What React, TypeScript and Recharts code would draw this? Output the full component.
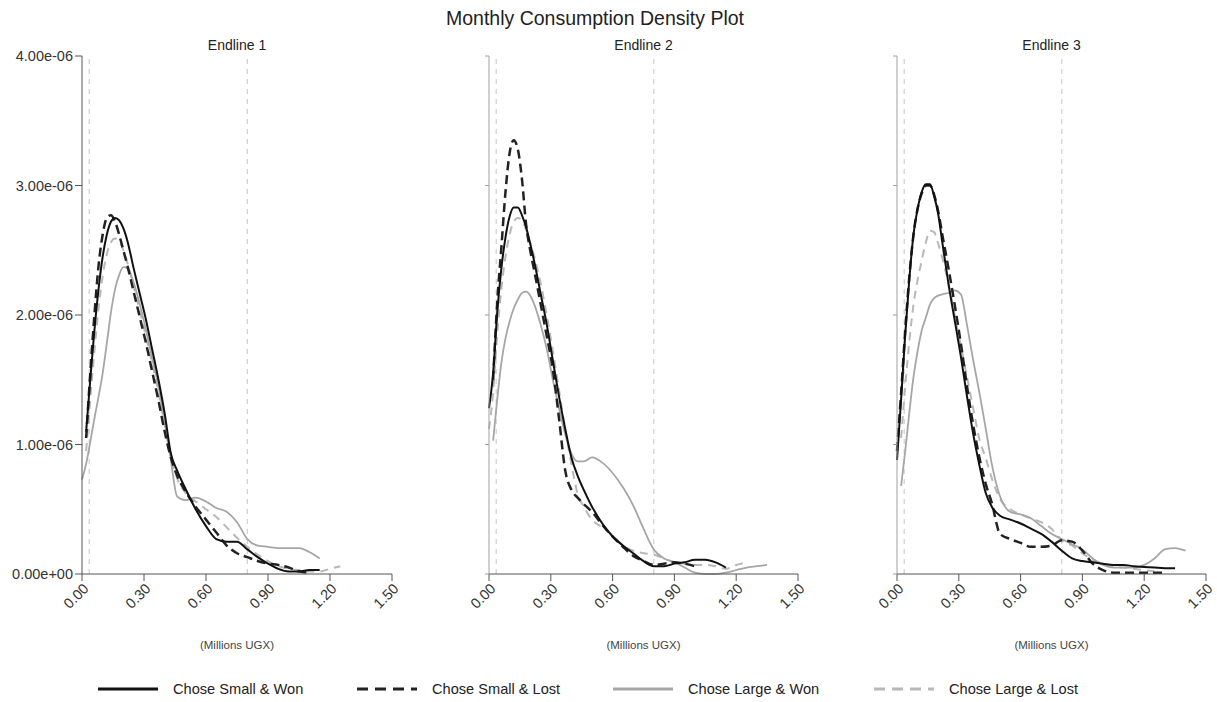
import React from "react";
import { LineChart, Line, XAxis, YAxis, ReferenceLine } from "recharts";

// x grid (millions UGX)
const X_GRID = [0, 0.02, 0.04, 0.06, 0.08, 0.1, 0.12, 0.14, 0.16, 0.18, 0.2, 0.22, 0.25, 0.28, 0.31, 0.34, 0.37, 0.4, 0.43, 0.46, 0.5, 0.55, 0.6, 0.65, 0.7, 0.75, 0.8, 0.85, 0.9, 0.95, 1.0, 1.05, 1.1, 1.15, 1.2, 1.25, 1.3, 1.35, 1.4];

// densities in units of 1e-6
const E1_SMALL_WON = [null, 1.10, 1.50, 1.88, 2.20, 2.45, 2.62, 2.72, 2.75, 2.73, 2.67, 2.57, 2.36, 2.16, 1.96, 1.73, 1.50, 1.24, 0.93, 0.80, 0.66, 0.50, 0.37, 0.27, 0.25, 0.25, 0.19, 0.13, 0.08, 0.04, 0.02, 0.02, 0.03, 0.03, null, null, null, null, null];
const E1_SMALL_LOST = [null, 1.05, 1.55, 2.00, 2.38, 2.62, 2.75, 2.77, 2.72, 2.62, 2.50, 2.38, 2.18, 1.98, 1.78, 1.56, 1.34, 1.10, 0.90, 0.76, 0.64, 0.52, 0.42, 0.32, 0.22, 0.16, 0.13, 0.10, 0.08, 0.07, 0.05, 0.02, 0.01, null, null, null, null, null, null];
const E1_LARGE_WON = [0.73, 0.85, 1.02, 1.20, 1.37, 1.55, 1.78, 2.02, 2.20, 2.31, 2.37, 2.36, 2.25, 2.08, 1.88, 1.66, 1.45, 1.18, 0.88, 0.60, 0.57, 0.59, 0.56, 0.51, 0.48, 0.40, 0.27, 0.22, 0.21, 0.20, 0.20, 0.20, 0.17, 0.12, null, null, null, null, null];
const E1_LARGE_LOST = [null, 0.95, 1.35, 1.72, 2.05, 2.30, 2.47, 2.56, 2.59, 2.57, 2.50, 2.40, 2.22, 2.03, 1.83, 1.62, 1.40, 1.15, 0.90, 0.74, 0.63, 0.56, 0.50, 0.44, 0.36, 0.28, 0.21, 0.15, 0.10, 0.06, 0.04, 0.03, 0.02, 0.02, 0.04, 0.06, null, null, null];

const E2_SMALL_WON = [1.28, 1.55, 2.02, 2.36, 2.60, 2.76, 2.83, 2.83, 2.77, 2.68, 2.55, 2.41, 2.17, 1.93, 1.65, 1.37, 1.12, 0.90, 0.76, 0.65, 0.52, 0.39, 0.29, 0.22, 0.16, 0.10, 0.06, 0.06, 0.08, 0.09, 0.11, 0.11, 0.09, 0.05, null, null, null, null, null];
const E2_SMALL_LOST = [null, 1.50, 2.10, 2.52, 2.95, 3.25, 3.35, 3.28, 3.05, 2.70, 2.50, 2.34, 2.09, 1.84, 1.58, 1.20, 0.80, 0.65, 0.59, 0.54, 0.48, 0.38, 0.29, 0.21, 0.14, 0.10, 0.07, 0.08, 0.09, 0.08, 0.06, null, null, null, null, null, null, null, null];
const E2_LARGE_WON = [null, 1.03, 1.35, 1.63, 1.82, 1.95, 2.05, 2.12, 2.17, 2.18, 2.15, 2.08, 1.93, 1.74, 1.50, 1.28, 1.08, 0.93, 0.87, 0.87, 0.90, 0.86, 0.78, 0.67, 0.53, 0.35, 0.19, 0.12, 0.09, 0.05, 0.01, 0.00, 0.00, 0.01, 0.03, 0.05, 0.06, 0.07, null];
const E2_LARGE_LOST = [1.12, 1.40, 1.85, 2.20, 2.45, 2.62, 2.72, 2.75, 2.73, 2.66, 2.56, 2.45, 2.25, 2.00, 1.72, 1.42, 1.12, 0.85, 0.62, 0.52, 0.42, 0.36, 0.30, 0.22, 0.18, 0.16, 0.15, 0.12, 0.09, 0.08, 0.07, 0.07, 0.06, 0.04, 0.07, 0.09, null, null, null];

const E3_SMALL_WON = [0.88, 1.35, 1.85, 2.28, 2.62, 2.82, 2.95, 3.01, 3.01, 2.92, 2.78, 2.56, 2.24, 1.96, 1.68, 1.37, 1.08, 0.84, 0.63, 0.52, 0.45, 0.42, 0.39, 0.35, 0.31, 0.25, 0.18, 0.12, 0.10, 0.09, 0.08, 0.07, 0.07, 0.06, 0.055, 0.05, 0.045, 0.045, null];
const E3_SMALL_LOST = [0.95, 1.40, 1.88, 2.30, 2.62, 2.82, 2.94, 3.00, 3.00, 2.93, 2.80, 2.62, 2.36, 2.08, 1.78, 1.45, 1.15, 0.90, 0.70, 0.55, 0.31, 0.27, 0.24, 0.21, 0.21, 0.22, 0.26, 0.25, 0.18, 0.08, 0.03, 0.01, 0.01, 0.01, 0.01, 0.01, 0.01, null, null];
const E3_LARGE_WON = [null, 0.68, 0.95, 1.25, 1.52, 1.72, 1.88, 1.98, 2.08, 2.13, 2.15, 2.16, 2.17, 2.19, 2.16, 1.92, 1.65, 1.40, 1.13, 0.85, 0.60, 0.48, 0.46, 0.43, 0.37, 0.31, 0.27, 0.23, 0.19, 0.12, 0.07, 0.05, 0.05, 0.05, 0.07, 0.12, 0.19, 0.20, 0.18];
const E3_LARGE_LOST = [null, 1.05, 1.45, 1.80, 2.08, 2.27, 2.42, 2.56, 2.65, 2.64, 2.55, 2.44, 2.24, 2.00, 1.76, 1.52, 1.28, 1.04, 0.90, 0.74, 0.58, 0.50, 0.46, 0.43, 0.40, 0.35, 0.26, 0.22, 0.16, 0.11, 0.08, 0.06, 0.05, 0.04, 0.03, 0.02, null, null, null];

const X_TICKS = [0, 0.3, 0.6, 0.9, 1.2, 1.5];
const Y_TICKS = [0, 1e-6, 2e-6, 3e-6, 4e-6];
const REF_LINES = [0.035, 0.8];
const PANEL_TITLES = ["Endline 1", "Endline 2", "Endline 3"];
const SERIES_NAMES = ["Chose Small & Won", "Chose Small & Lost", "Chose Large & Won", "Chose Large & Lost"];
const UNIT = 1e-6;

const FONT = "'Liberation Sans', Arial, sans-serif";

const STYLES = [
  { key: "sw", stroke: "#111111", width: 2, dash: undefined as string | undefined },
  { key: "sl", stroke: "#222222", width: 2.5, dash: "9 5" },
  { key: "lw", stroke: "#a6a6a6", width: 1.8, dash: undefined as string | undefined },
  { key: "ll", stroke: "#b8b8b8", width: 2, dash: "8 6" },
];

function buildRows(sw: (number | null)[], sl: (number | null)[], lw: (number | null)[], ll: (number | null)[]) {
  const conv = (v: number | null) => (v == null ? null : v * UNIT);
  return X_GRID.map((x, i) => ({ x, sw: conv(sw[i]), sl: conv(sl[i]), lw: conv(lw[i]), ll: conv(ll[i]) }));
}

const PANELS = [
  buildRows(E1_SMALL_WON, E1_SMALL_LOST, E1_LARGE_WON, E1_LARGE_LOST),
  buildRows(E2_SMALL_WON, E2_SMALL_LOST, E2_LARGE_WON, E2_LARGE_LOST),
  buildRows(E3_SMALL_WON, E3_SMALL_LOST, E3_LARGE_WON, E3_LARGE_LOST),
];

const fmtY = (v: number) =>
  v.toExponential(2).replace(/e([+-])(\d)$/, (_m: string, s: string, d: string) => `e${s}0${d}`);

const XTick = (props: any) => {
  const { x, y, payload } = props;
  const tx = x + 4;
  const ty = y + 3;
  return (
    <text
      x={tx}
      y={ty}
      transform={`rotate(-45, ${tx}, ${ty})`}
      textAnchor="end"
      dy="0.35em"
      fontSize={14.5}
      fontFamily={FONT}
      fill="#333"
    >
      {Number(payload.value).toFixed(2)}
    </text>
  );
};

const CHART_W = 412;

function Panel({ data, first, left, right }: { data: any[]; first: boolean; left: number; right: number }) {
  const axisColor = first ? "#555" : "#a0a0a0";
  return (
    <div style={{ position: "absolute", left, top: 0 }}>
      <LineChart width={CHART_W} height={660} data={data} margin={{ top: 56, right, bottom: 0, left: 8 }}>
        <XAxis
          dataKey="x"
          type="number"
          domain={[0, 1.5]}
          ticks={X_TICKS}
          height={86}
          stroke="#555"
          tickSize={7}
          tick={<XTick />}
          interval={0}
        />
        <YAxis
          type="number"
          domain={[0, 4e-6]}
          ticks={Y_TICKS}
          width={74}
          stroke={axisColor}
          tickSize={first ? 7 : 4}
          tickFormatter={first ? fmtY : () => ""}
          tick={{ fontSize: 14.5, fontFamily: FONT, fill: "#333" }}
          interval={0}
        />
        {REF_LINES.map((rx) => (
          <ReferenceLine key={rx} x={rx} stroke="#cfcfcf" strokeDasharray="5 5" strokeWidth={1.2} ifOverflow="visible" />
        ))}
        {[3, 2, 1, 0].map((i) => {
          const s = STYLES[i];
          return (
            <Line
              key={s.key}
              dataKey={s.key}
              type="monotone"
              stroke={s.stroke}
              strokeWidth={s.width}
              strokeDasharray={s.dash}
              dot={false}
              activeDot={false}
              connectNulls={false}
              isAnimationActive={false}
            />
          );
        })}
      </LineChart>
    </div>
  );
}

const PANEL_LEFTS = [0, 407, 815];
const PANEL_RIGHTS = [20, 21, 21];
const PANEL_CENTERS = [237, 643.5, 1051.5];
const LEGEND_X = [98, 357, 613, 874];

export default function App() {
  return (
    <div style={{ position: "absolute", left: 0, top: 0, width: 1217, height: 702, background: "#fff", fontFamily: FONT, overflow: "hidden" }}>
      <div style={{ position: "absolute", left: 345, width: 500, top: 6, textAlign: "center", fontSize: 19.5, lineHeight: "24px", color: "#222" }}>
        Monthly Consumption Density Plot
      </div>
      {PANELS.map((d, i) => (
        <Panel key={i} data={d} first={i === 0} left={PANEL_LEFTS[i]} right={PANEL_RIGHTS[i]} />
      ))}
      {PANEL_TITLES.map((t, i) => (
        <div key={t} style={{ position: "absolute", left: PANEL_CENTERS[i] - 100, width: 200, top: 36, textAlign: "center", fontSize: 14, lineHeight: "18px", color: "#222" }}>
          {t}
        </div>
      ))}
      {PANEL_CENTERS.map((c, i) => (
        <div key={i} style={{ position: "absolute", left: c - 100, width: 200, top: 638, textAlign: "center", fontSize: 11.5, lineHeight: "14px", color: "#444" }}>
          (Millions UGX)
        </div>
      ))}
      <svg style={{ position: "absolute", left: 0, top: 676 }} width={1217} height={26}>
        {SERIES_NAMES.map((n, i) => {
          const s = STYLES[i];
          const x0 = LEGEND_X[i];
          return (
            <g key={n}>
              <line x1={x0} x2={x0 + 60} y1={13} y2={13} stroke={s.stroke} strokeWidth={3} strokeDasharray={s.dash ? "11 7" : undefined} />
              <text x={x0 + 75} y={13} dy="0.35em" fontSize={14.6} fontFamily={FONT} fill="#222">
                {n}
              </text>
            </g>
          );
        })}
      </svg>
    </div>
  );
}
